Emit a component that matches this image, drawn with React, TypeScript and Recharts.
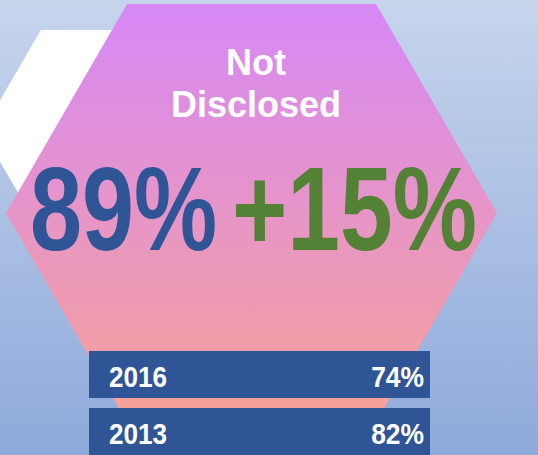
import { BarChart, Bar, XAxis, YAxis } from 'recharts';

const years = ['2016', '2013'];
const shares = [74, 82];
const headline = 'Not Disclosed';
const totalShare = '89%';
const change = '+15%';

const rows = years.map((year, i) => ({ year, value: shares[i] }));

const W = 538;
const H = 455;
const BLUE = '#2f5597';
const GREEN = '#538135';
const FONT = '"Liberation Sans", Arial, sans-serif';

// narrow bold text: squeeze horizontally around its anchor point
const Narrow = ({ x, y, sx, anchor = 'start', fill, size, children }: any) => (
  <text
    transform={`translate(${x},${y}) scale(${sx},1)`}
    textAnchor={anchor}
    fill={fill}
    fontFamily={FONT}
    fontWeight="bold"
    fontSize={size}
  >
    {children}
  </text>
);

// box for each year: drawn over the bar's full-width background track
const YearBox = (props: any) => {
  const { payload } = props;
  const bg = props.background ?? { x: props.x, y: props.y, width: props.width, height: props.height };
  const baseline = bg.y + bg.height / 2 + 12;
  return (
    <g>
      <rect x={bg.x} y={bg.y} width={bg.width} height={bg.height} fill={BLUE} />
      <Narrow x={bg.x + 20} y={baseline} sx={0.87} fill="#fff" size={30}>
        {payload.year}
      </Narrow>
      <Narrow x={bg.x + bg.width - 6} y={baseline} sx={0.88} anchor="end" fill="#fff" size={30}>
        {payload.value}%
      </Narrow>
    </g>
  );
};

export default function App() {
  const words = headline.split(' ');
  return (
    <div style={{ position: 'relative', width: W, height: H, overflow: 'hidden' }}>
      <style>{'body{margin:0}'}</style>
      <svg width={W} height={H} style={{ position: 'absolute', left: 0, top: 0 }}>
        <defs>
          <linearGradient id="bgGrad" x1="0" y1="0" x2="0" y2="1">
            <stop offset="0%" stopColor="#c6d5ec" />
            <stop offset="100%" stopColor="#8ea9db" />
          </linearGradient>
          <linearGradient id="hexGrad" gradientUnits="userSpaceOnUse" x1="0" y1="4" x2="0" y2="422">
            <stop offset="0%" stopColor="#d688f6" />
            <stop offset="100%" stopColor="#f8a298" />
          </linearGradient>
        </defs>
        <rect x={0} y={0} width={W} height={H} fill="url(#bgGrad)" />
        <polygon points="41,30 158,30 216,131 158,232 41,232 -18,131" fill="#ffffff" />
        <polygon points="127,4 376,4 497,213 376,422 127,422 6,213" fill="url(#hexGrad)" />
        <text x={256} y={75} textAnchor="middle" fill="#fff" fontFamily={FONT} fontWeight="bold" fontSize={36}>
          {words[0]}
        </text>
        <text x={256} y={117} textAnchor="middle" fill="#fff" fontFamily={FONT} fontWeight="bold" fontSize={36}>
          {words[1]}
        </text>
        <Narrow x={30} y={250} sx={0.786} fill={BLUE} size={119}>
          {totalShare}
        </Narrow>
        <Narrow x={232} y={250} sx={0.796} fill={GREEN} size={119}>
          {change}
        </Narrow>
      </svg>
      <div style={{ position: 'absolute', left: 0, top: 0 }}>
        <BarChart
          width={W}
          height={465}
          data={rows}
          layout="vertical"
          margin={{ top: 346, right: 108, bottom: 5, left: 89 }}
          barSize={47}
          barCategoryGap={5}
        >
          <XAxis type="number" domain={[0, 100]} hide />
          <YAxis type="category" dataKey="year" hide width={0} />
          <Bar dataKey="value" isAnimationActive={false} background={{ fill: BLUE }} shape={YearBox} />
        </BarChart>
      </div>
    </div>
  );
}
